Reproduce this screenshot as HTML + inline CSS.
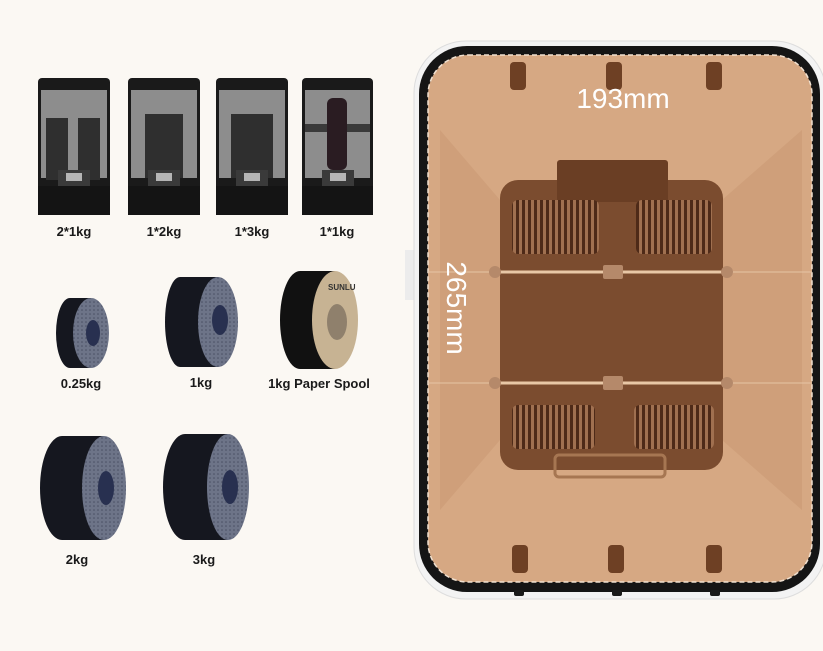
<!DOCTYPE html>
<html><head><meta charset="utf-8"><style>
html,body{margin:0;padding:0;background:#fbf8f3;}
svg{display:block}
text{font-family:"Liberation Sans",sans-serif;font-weight:bold;fill:#1a1a1a;}
</style></head><body>
<svg width="823" height="651" viewBox="0 0 823 651" xmlns="http://www.w3.org/2000/svg">
<defs>
<pattern id="gr" width="6" height="10" patternUnits="userSpaceOnUse"><rect width="6" height="10" fill="#a07050"/><rect width="3" height="10" fill="#4e2a18"/></pattern>
<pattern id="dots" width="4" height="4" patternUnits="userSpaceOnUse"><rect width="4" height="4" fill="#6d7488"/><circle cx="2" cy="2" r="0.8" fill="#4a5064"/></pattern>
</defs>
<rect width="823" height="651" fill="#fbf8f3"/>

<g id="boxes">
<g transform="translate(38,78)">
<rect x="0" y="0" width="72" height="137" rx="4" fill="#1a1a1a"/>
<rect x="3" y="12" width="66" height="88" fill="#8d8d8d"/>
<rect x="8" y="40" width="22" height="62" fill="#2f2f2f"/><rect x="40" y="40" width="22" height="62" fill="#2f2f2f"/>
<rect x="20" y="92" width="32" height="16" fill="#3a3a3a"/><rect x="28" y="95" width="16" height="8" fill="#b5b5b5"/>
<rect x="0" y="108" width="72" height="29" fill="#141414"/>
</g>
<g transform="translate(128,78)">
<rect x="0" y="0" width="72" height="137" rx="4" fill="#1a1a1a"/>
<rect x="3" y="12" width="66" height="88" fill="#8d8d8d"/>
<rect x="17" y="36" width="38" height="64" fill="#2f2f2f"/>
<rect x="20" y="92" width="32" height="16" fill="#3a3a3a"/><rect x="28" y="95" width="16" height="8" fill="#b5b5b5"/>
<rect x="0" y="108" width="72" height="29" fill="#141414"/>
</g>
<g transform="translate(216,78)">
<rect x="0" y="0" width="72" height="137" rx="4" fill="#1a1a1a"/>
<rect x="3" y="12" width="66" height="88" fill="#8d8d8d"/>
<rect x="15" y="36" width="42" height="64" fill="#2f2f2f"/>
<rect x="20" y="92" width="32" height="16" fill="#3a3a3a"/><rect x="28" y="95" width="16" height="8" fill="#b5b5b5"/>
<rect x="0" y="108" width="72" height="29" fill="#141414"/>
</g>
<g transform="translate(302,78)">
<rect x="0" y="0" width="71" height="137" rx="4" fill="#1a1a1a"/>
<rect x="3" y="12" width="65" height="88" fill="#8d8d8d"/>
<rect x="3" y="46" width="65" height="8" fill="#3a3a3a"/>
<rect x="25" y="20" width="20" height="72" rx="6" fill="#2a1c22"/>
<rect x="20" y="92" width="32" height="16" fill="#3a3a3a"/><rect x="28" y="95" width="16" height="8" fill="#b5b5b5"/>
<rect x="0" y="108" width="71" height="29" fill="#141414"/>
</g>
</g>
<text x="74" y="236" font-size="13" text-anchor="middle">2*1kg</text>
<text x="164" y="236" font-size="13" text-anchor="middle">1*2kg</text>
<text x="252" y="236" font-size="13" text-anchor="middle">1*3kg</text>
<text x="337" y="236" font-size="13" text-anchor="middle">1*1kg</text>

<g>
<ellipse cx="70" cy="333" rx="14" ry="35" fill="#15171f"/><rect x="70" y="298" width="21" height="70" fill="#15171f"/>
<ellipse cx="91" cy="333" rx="18" ry="35" fill="url(#dots)"/><ellipse cx="93" cy="333" rx="7" ry="13" fill="#283050"/>
</g>
<g>
<ellipse cx="180" cy="322" rx="15" ry="45" fill="#15171f"/><rect x="180" y="277" width="38" height="90" fill="#15171f"/>
<ellipse cx="218" cy="322" rx="20" ry="45" fill="url(#dots)"/><ellipse cx="220" cy="320" rx="8" ry="15" fill="#283050"/>
</g>
<g>
<ellipse cx="300" cy="320" rx="20" ry="49" fill="#111"/><rect x="300" y="271" width="35" height="98" fill="#111"/>
<ellipse cx="335" cy="320" rx="23" ry="49" fill="#c7b393"/><ellipse cx="337" cy="322" rx="10" ry="18" fill="#8f806c"/>
<text x="328" y="290" font-size="8" style="fill:#333">SUNLU</text>
</g>
<g>
<ellipse cx="62" cy="488" rx="22" ry="52" fill="#15171f"/><rect x="62" y="436" width="42" height="104" fill="#15171f"/>
<ellipse cx="104" cy="488" rx="22" ry="52" fill="url(#dots)"/><ellipse cx="106" cy="488" rx="8" ry="17" fill="#283050"/>
</g>
<g>
<ellipse cx="185" cy="487" rx="22" ry="53" fill="#15171f"/><rect x="185" y="434" width="43" height="106" fill="#15171f"/>
<ellipse cx="228" cy="487" rx="21" ry="53" fill="url(#dots)"/><ellipse cx="230" cy="487" rx="8" ry="17" fill="#283050"/>
</g>
<text x="81" y="388" font-size="13" text-anchor="middle">0.25kg</text>
<text x="201" y="387" font-size="13" text-anchor="middle">1kg</text>
<text x="319" y="388" font-size="13" text-anchor="middle">1kg Paper Spool</text>
<text x="77" y="564" font-size="13" text-anchor="middle">2kg</text>
<text x="204" y="564" font-size="13" text-anchor="middle">3kg</text>

<rect x="405" y="250" width="10" height="50" fill="#ececec"/>
<rect x="414" y="41" width="412" height="558" rx="52" fill="#f3f3f3" stroke="#ddd"/>
<rect x="419" y="46" width="401" height="546" rx="48" fill="#151515"/>
<rect x="428" y="55" width="384" height="527" rx="40" fill="#d6a883"/>
<rect x="428" y="55" width="384" height="527" rx="40" fill="none" stroke="#f0e0d0" stroke-dasharray="5,3" stroke-width="1.5"/>
<path d="M440 130 L500 200 L500 440 L440 510 Z" fill="#c99a75" opacity="0.6"/>
<path d="M802 130 L722 200 L722 440 L802 510 Z" fill="#c99a75" opacity="0.6"/>
<g fill="#6e4024">
<rect x="510" y="62" width="16" height="28" rx="4"/><rect x="606" y="62" width="16" height="28" rx="4"/><rect x="706" y="62" width="16" height="28" rx="4"/>
<rect x="512" y="545" width="16" height="28" rx="4"/><rect x="608" y="545" width="16" height="28" rx="4"/><rect x="706" y="545" width="16" height="28" rx="4"/>
</g>
<g fill="#1a1a1a">
<rect x="514" y="590" width="10" height="6" rx="2"/><rect x="612" y="590" width="10" height="6" rx="2"/><rect x="710" y="590" width="10" height="6" rx="2"/>
</g>
<rect x="500" y="180" width="223" height="290" rx="18" fill="#7b4c2f"/>
<rect x="557" y="160" width="111" height="42" rx="3" fill="#6a3e24"/>
<rect x="512" y="200" width="87" height="54" rx="6" fill="url(#gr)"/>
<rect x="636" y="200" width="76" height="54" rx="6" fill="url(#gr)"/>
<rect x="512" y="405" width="83" height="44" rx="6" fill="url(#gr)"/>
<rect x="634" y="405" width="80" height="44" rx="6" fill="url(#gr)"/>
<rect x="555" y="455" width="110" height="22" rx="4" fill="none" stroke="#a67652" stroke-width="3"/>
<line x1="428" y1="272" x2="812" y2="272" stroke="#e6c4a4" stroke-width="1"/>
<line x1="428" y1="383" x2="812" y2="383" stroke="#e6c4a4" stroke-width="1"/>
<line x1="492" y1="272" x2="733" y2="272" stroke="#e8c7a6" stroke-width="3"/>
<line x1="492" y1="383" x2="733" y2="383" stroke="#e8c7a6" stroke-width="3"/>
<g fill="#b5896a"><circle cx="495" cy="272" r="6"/><circle cx="727" cy="272" r="6"/><circle cx="495" cy="383" r="6"/><circle cx="727" cy="383" r="6"/>
<rect x="603" y="265" width="20" height="14" rx="2"/><rect x="603" y="376" width="20" height="14" rx="2"/></g>
<text x="623" y="108" font-size="28" text-anchor="middle" style="fill:#fff;font-weight:normal">193mm</text>
<text transform="translate(447,308) rotate(90)" font-size="28" text-anchor="middle" style="fill:#fff;font-weight:normal">265mm</text>
</svg>
</body></html>
